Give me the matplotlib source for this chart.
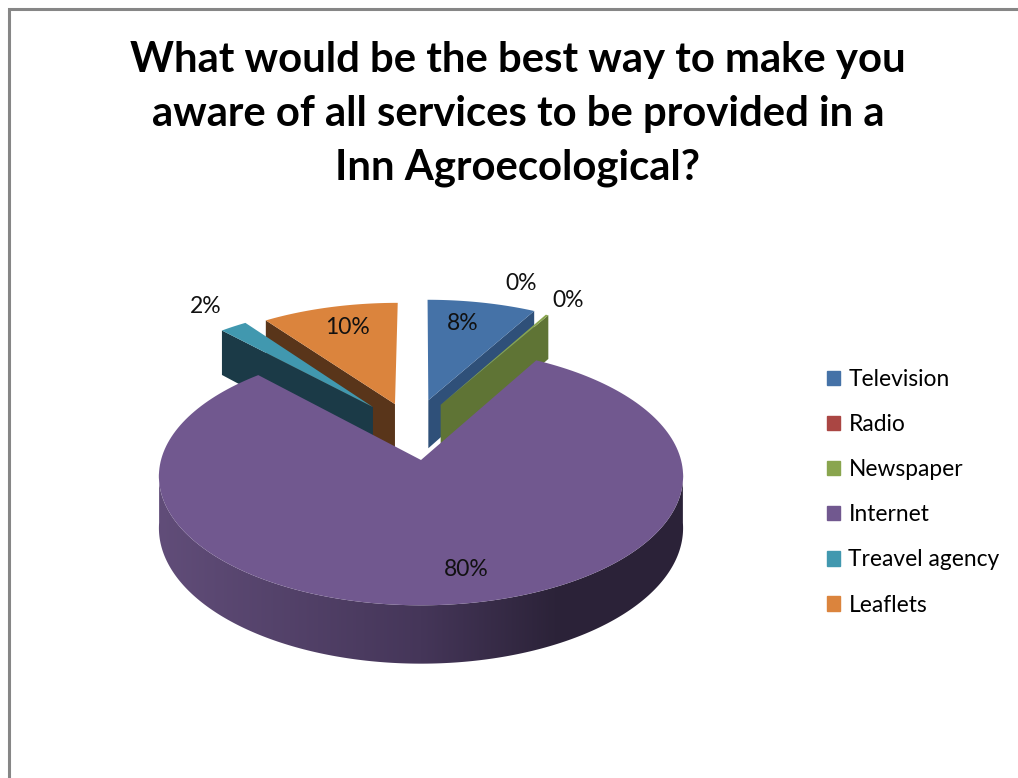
import numpy as np
from matplotlib import pyplot as plt
from matplotlib.colors import LinearSegmentedColormap
from matplotlib.patches import Polygon

plt.rcParams['font.family'] = ['Lato', 'DejaVu Sans']

title = "What would be the best way to make you\naware of all services to be provided in a\nInn Agroecological?"
categories = ["Television", "Radio", "Newspaper", "Internet", "Treavel agency", "Leaflets"]
values = [8, 0, 0.2, 80, 2, 10]

colors = ["#4572a7", "#aa4643", "#89a54e", "#71588f", "#4198af", "#db843d"]
side_colors = ["#2f5079", "#6e2d2b", "#5f7435", "#4a3a60", "#1b3a47", "#59351a"]

# how far each slice is pulled out of the pie (in units of the radius)
offset_x = [0.03, 0.05, 0.08, 0.0, -0.195, -0.106]
offset_y = [0.50, 0.48, 0.46, 0.0, 0.44, 0.466]
label_pos = [(463, 323), (521, 283), (568, 300), (466, 569), (206, 306), (347, 327)]

# pie projection, pixels
cx, cy = 421, 460
rx, ry = 260, 127
persp = 0.126
depth = 51


def project(u, v, z=0.0):
    w = 1 / (1 + persp * v)
    return cx + rx * u * w, cy - ry * v * w + depth * w * z


def rim(theta, ox, oy, z=0.0):
    return project(np.sin(theta) + ox, np.cos(theta) + oy, z)


fig = plt.figure(figsize=(10.18, 7.78), dpi=100)
ax = fig.add_axes([0, 0, 1, 1])
ax.set_xlim(0, 1018)
ax.set_ylim(778, 0)
ax.axis("off")

# chart border, only top and left are in frame
ax.plot([1018, 9, 9], [9, 9, 778], color="#868686", lw=2.2, solid_joinstyle="miter", zorder=1)

edges = np.radians(np.concatenate([[0], np.cumsum(values)]) / sum(values) * 360)
wall_cmap = LinearSegmentedColormap.from_list(
    "wall", [(0, "#614d79"), (0.5, "#453659"), (0.75, "#2c2339"), (1, "#2b2238")])

# back slices first, the big one goes on top
for order, i in enumerate([0, 2, 5, 4, 3]):
    start, end = edges[i], edges[i + 1]
    ox, oy = offset_x[i], offset_y[i]
    z = 2 + order
    apex = project(ox, oy)

    if i == 3:
        # outer wall of the internet slice, shaded left to right
        theta = np.radians(np.linspace(95, 265, 200))
        top_x, top_y = rim(theta, ox, oy)
        low_x, low_y = rim(theta, ox, oy, 1)
        wall = Polygon(np.c_[np.r_[top_x, low_x[::-1]], np.r_[top_y, low_y[::-1]]],
                       transform=ax.transData, fc="none", ec="none")
        ax.add_patch(wall)
        extent = [low_x.min() - 2, low_x.max() + 2, low_y.max() + 2, top_y.min() - 2]
        img = ax.imshow(np.linspace(0, 1, 256)[None, :], cmap=wall_cmap, extent=extent,
                        aspect="auto", zorder=z, interpolation="bilinear")
        img.set_clip_path(wall)
        ax.set_xlim(0, 1018)
        ax.set_ylim(778, 0)
    else:
        # cut face on the side turned to the viewer
        side = end if (start + end) / 2 < np.pi else start
        low_apex = project(ox, oy, 1)
        tx, ty = rim(side, ox, oy)
        dx, dy = rim(side, ox, oy, 1)
        ax.fill([apex[0], tx, dx, low_apex[0]], [apex[1], ty, dy, low_apex[1]],
                color=side_colors[i], lw=0, zorder=z)

    theta = np.linspace(start, end, 200)
    xs, ys = rim(theta, ox, oy)
    ax.fill(np.r_[apex[0], xs], np.r_[apex[1], ys], color=colors[i], lw=0, zorder=z + 0.5)

for v, (x, y) in zip(values, label_pos):
    ax.text(x, y, f"{v:.0f}%", ha="center", va="center", fontsize=16.5, color="#111111", zorder=30)

ax.text(518, 114, title, ha="center", va="center", fontsize=30.2, fontweight="bold",
        color="black", linespacing=1.5, zorder=30)

handles = [plt.Rectangle((0, 0), 1, 1, color=c) for c in colors]
ax.legend(handles, categories, loc="upper left", bbox_to_anchor=(820 / 1018, 1 - 362 / 778),
          bbox_transform=fig.transFigure, frameon=False, fontsize=16.4, labelspacing=1.06,
          handlelength=0.586, handleheight=0.586, handletextpad=0.36, borderpad=0, borderaxespad=0.3)

fig.savefig("out.png", dpi=100)
